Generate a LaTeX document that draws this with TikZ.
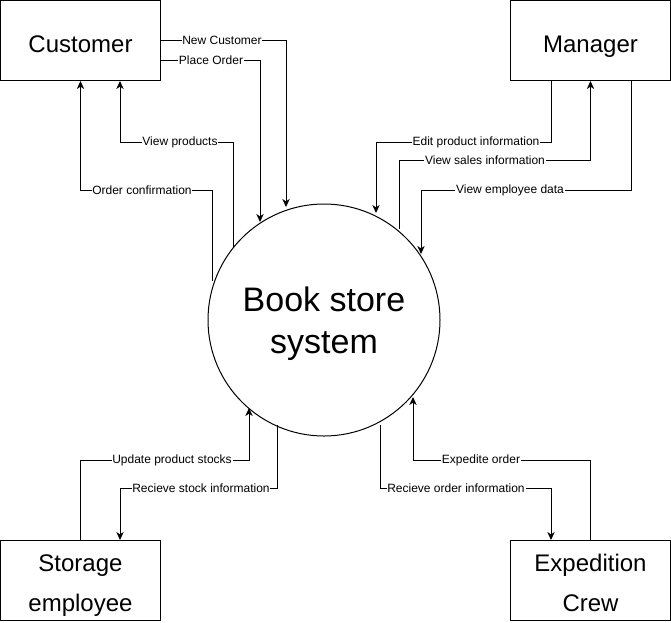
\documentclass[tikz,border=0pt]{standalone}
\usepackage{fontspec}
\setmainfont{Liberation Sans}
\usetikzlibrary{arrows.meta}
\begin{document}
\begin{tikzpicture}[x=0.75pt,y=-0.75pt,
  box/.style={draw, line width=0.75pt, minimum width=120pt, minimum height=60pt, inner sep=0pt, align=center, font=\fontsize{18}{30}\selectfont},
  oneline/.style={text height=18pt, text depth=0pt},
  twoline/.style={text height=47pt, text depth=0pt},
  flow/.style={line width=0.75pt, -{Stealth[length=6pt,width=5.5pt,inset=1.8pt]}},
  lbl/.style={fill=white, inner sep=0.6pt, font=\fontsize{9}{10}\selectfont}]
\useasboundingbox (0,0) rectangle (671,622);
\node[box, oneline] (cust) at (80.5,40.5) {Customer};
\node[box, oneline] (mgr) at (590.5,40.5) {Manager};
\node[box, twoline] (stor) at (80.5,580.5) {Storage\\employee};
\node[box, twoline] (exp) at (590.5,580.5) {Expedition\\Crew};
\node[circle, draw, line width=0.75pt, minimum size=174pt, inner sep=0pt, align=center, font=\fontsize{25.5}{31.5}\selectfont, text height=50pt, text depth=0pt] (sys) at (324,320) {Book store\\system};
% ends on the circle
\coordinate (a1) at (286,207);
\coordinate (a2) at (260,222);
\coordinate (b1) at (233,248);
\coordinate (b2) at (212,281);
\coordinate (c1) at (376,213);
\coordinate (c2) at (399,229);
\coordinate (c3) at (421,254);
\coordinate (d1) at (249,408);
\coordinate (d2) at (277,425);
\coordinate (e1) at (413,397);
\coordinate (e2) at (380,425);
% customer
\draw[flow] (cust.north east |- 0,40) -| (a1);
\draw[flow] (cust.north east |- 0,60) -| (a2);
\draw[flow] (b1) |- (120,142) -- (cust.south -| 120,0);
\draw[flow] (b2) |- (cust.south |- 0,190) -- (cust.south);
\node[lbl] (l1) at (222,40) {New Customer};
\node[lbl] (l2) at (211,60) {Place Order};
\node[lbl] (l3) at (180,142) {View products};
\node[lbl] (l4) at (142,190) {Order confirmation};
% manager
\draw[flow] (mgr.south -| 551,0) -- (551,142) -| (c1);
\draw[flow] (c2) |- (mgr.south |- 0,160) -- (mgr.south);
\draw[flow] (mgr.south -| 631,0) -- (631,190) -| (c3);
\node[lbl] (l5) at (476,142) {Edit product information};
\node[lbl] (l6) at (485,160) {View sales information};
\node[lbl] (l7) at (510,190) {View employee data};
% storage
\draw[flow] (stor.north) -- (stor.north |- 0,460) -| (d1);
\draw[flow] (d2) |- (120,488) -- (stor.north -| 120,0);
\node[lbl] (l8) at (172,460) {Update product stocks};
\node[lbl] (l9) at (201,488) {Recieve stock information};
% expedition
\draw[flow] (exp.north) -- (exp.north |- 0,460) -| (e1);
\draw[flow] (e2) |- (551,488) -- (exp.north -| 551,0);
\node[lbl] (l10) at (481,460) {Expedite order};
\node[lbl] (l11) at (456,488) {Recieve order information};
\end{tikzpicture}
\end{document}
